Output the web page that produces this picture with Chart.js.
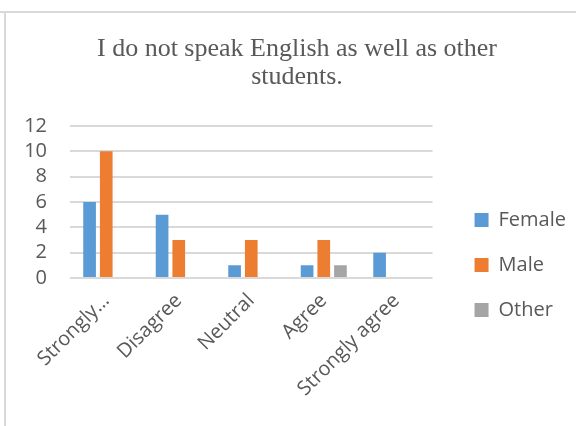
<!DOCTYPE html>
<html>
<head>
<meta charset="utf-8">
<script src="https://cdn.jsdelivr.net/npm/chart.js@4.4.1/dist/chart.umd.min.js"></script>
<style>
    html, body { margin: 0; padding: 0; background: #fff; overflow: hidden; }
    .frame-top { position: absolute; left: 0; top: 11px; width: 576px; height: 2px; background: #d9d9d9; }
    .frame-left { position: absolute; left: 4px; top: 11px; width: 2px; height: 415px; background: #d9d9d9; }
    #wrap { position: absolute; left: 7px; top: 14px; width: 569px; height: 412px; }
</style>
</head>
<body>
<div class="frame-top"></div>
<div class="frame-left"></div>
<div id="wrap"><canvas id="chart" width="569" height="412"></canvas></div>
<script>
// survey answers, counted per gender
const categories = ['Strongly disagree', 'Disagree', 'Neutral', 'Agree', 'Strongly agree'];
const tickLabels = ['Strongly\u2026', 'Disagree', 'Neutral', 'Agree', 'Strongly agree'];
const female = [6, 5, 1, 1, 2];
const male = [10, 3, 3, 3, 0];
const other = [0, 0, 0, 1, 0];
const yTicks = [0, 2, 4, 6, 8, 10, 12];
const titleLines = ['I do not speak English as well as other', 'students.'];

const textColor = '#595959';
const gridColor = '#d9d9d9';
const sans = '"Open Sans", sans-serif';

// two-line serif heading above the plot
const headingPlugin = {
    id: 'heading',
    afterDraw(chart) {
        const c = chart.ctx;
        c.save();
        c.font = '26px "Liberation Serif", "Times New Roman", serif';
        c.fillStyle = textColor;
        c.textAlign = 'center';
        c.textBaseline = 'alphabetic';
        titleLines.forEach((line, i) => c.fillText(line, 290, 42 + i * 28));
        c.restore();
    }
};

const ctx = document.getElementById('chart').getContext('2d');

new Chart(ctx, {
    type: 'bar',
    data: {
        labels: categories,
        datasets: [
            { label: 'Female', data: female, backgroundColor: '#5b9bd5' },
            { label: 'Male', data: male, backgroundColor: '#ed7d31' },
            { label: 'Other', data: other, backgroundColor: '#a5a5a5' }
        ]
    },
    plugins: [headingPlugin],
    options: {
        responsive: false,
        animation: false,
        layout: { padding: { left: 11, right: 0, top: 112, bottom: 0 } },
        datasets: {
            bar: { categoryPercentage: 0.69, barPercentage: 0.76 }
        },
        plugins: {
            title: { display: false },
            legend: {
                position: 'right',
                align: 'start',
                maxWidth: 140,
                // blank legend title, only used to push the entries down
                title: { display: true, text: ' ', font: { size: 10, lineHeight: 1 }, padding: { top: 49, bottom: 0 } },
                labels: {
                    color: textColor,
                    boxWidth: 14,
                    boxHeight: 14,
                    padding: 25,
                    font: { family: sans, size: 20 }
                }
            },
            tooltip: { enabled: false }
        },
        scales: {
            x: {
                grid: { display: false, drawTicks: false },
                border: { display: false },
                ticks: {
                    color: textColor,
                    font: { family: sans, size: 20 },
                    minRotation: 45,
                    maxRotation: 45,
                    padding: 11,
                    callback: (v, i) => tickLabels[i]
                },
                afterFit: (scale) => { scale.height = 148; }
            },
            y: {
                min: 0,
                max: 12,
                afterBuildTicks: (scale) => { scale.ticks = yTicks.map(v => ({ value: v })); },
                grid: { color: gridColor, lineWidth: 2, drawTicks: false },
                border: { display: false },
                ticks: {
                    color: textColor,
                    font: { family: sans, size: 20 },
                    padding: 23,
                    autoSkip: false
                },
                afterFit: (scale) => { scale.width = 52; }
            },
            // empty axis that keeps a gap between the plot and the legend
            gap: {
                type: 'linear',
                position: 'right',
                grid: { display: false, drawTicks: false },
                border: { display: false },
                ticks: { display: false },
                afterFit: (scale) => { scale.width = 17; }
            }
        }
    }
});
</script>
</body>
</html>
